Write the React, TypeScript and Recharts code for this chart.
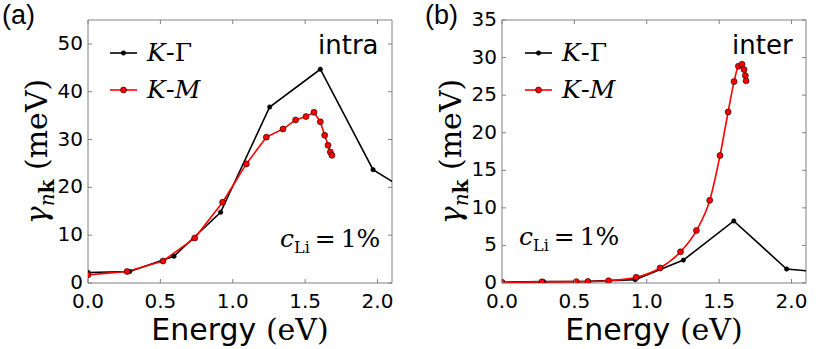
import { Line, LineChart, ReferenceArea, XAxis, YAxis } from 'recharts';

// energy (eV) and linewidth (meV)
const intraKG_x = [0, 0.288, 0.594, 0.916, 1.255, 1.605, 1.969, 2.3];
const intraKG_y = [2.2, 2.4, 5.6, 14.8, 36.8, 44.7, 23.7, 17.5];
const intraKM_x = [0, 0.27, 0.518, 0.737, 0.93, 1.094, 1.232, 1.347, 1.434, 1.506, 1.561, 1.605, 1.635, 1.658, 1.674, 1.685];
const intraKM_y = [1.7, 2.4, 4.6, 9.4, 16.9, 24.9, 30.5, 32.2, 34.1, 34.8, 35.7, 33.7, 30.9, 28.8, 27.4, 26.7];

const interKG_x = [0, 0.287, 0.594, 0.92, 1.253, 1.601, 1.966, 2.3];
const interKG_y = [0.1, 0.18, 0.22, 0.45, 3.05, 8.26, 1.86, 1.3];
const interKM_x = [0, 0.276, 0.513, 0.593, 0.736, 0.927, 1.092, 1.233, 1.343, 1.435, 1.506, 1.562, 1.603, 1.633, 1.658, 1.672, 1.681, 1.686];
const interKM_y = [0.1, 0.15, 0.18, 0.2, 0.3, 0.76, 2.0, 4.15, 6.98, 11.0, 16.97, 22.76, 26.8, 28.85, 29.1, 28.4, 27.6, 26.9];

const xTicks = [0, 0.5, 1.0, 1.5, 2.0];
const intraTicks = [0, 10, 20, 30, 40, 50];
const interTicks = [0, 5, 10, 15, 20, 25, 30, 35];

const zip = (xs: number[], ys: number[]) => xs.map((x, i) => ({ x, y: ys[i] }));

const SANS = '"DejaVu Sans", sans-serif';
const SERIF = '"DejaVu Serif", serif';
const FRAME = '#808080';
const RED = '#ff0000';

const makeXTick = (plotH: number) => (props: any) => {
  const { x, y, payload } = props;
  return (
    <g>
      <line x1={x} x2={x} y1={y} y2={y - 4} stroke={FRAME} />
      <line x1={x} x2={x} y1={y - plotH} y2={y - plotH + 4} stroke={FRAME} />
      <text x={x} y={y + 25} textAnchor="middle" fontFamily={SANS} fontSize={20} fill="#000">
        {Number(payload.value).toFixed(1)}
      </text>
    </g>
  );
};

const makeYTick = (plotW: number) => (props: any) => {
  const { x, y, payload } = props;
  return (
    <g>
      <line x1={x} x2={x + 4} y1={y} y2={y} stroke={FRAME} />
      <line x1={x + plotW} x2={x + plotW - 4} y1={y} y2={y} stroke={FRAME} />
      <text x={x - 5} y={y + 6} textAnchor="end" fontFamily={SANS} fontSize={20} fill="#000">
        {payload.value}
      </text>
    </g>
  );
};

const xLabel = (props: any) => {
  const vb = props.viewBox;
  const cx = vb.x + vb.width / 2;
  return (
    <text x={cx} y={vb.y + 57} textAnchor="middle" fontSize={30} fill="#000">
      <tspan fontFamily={SANS}>Energy </tspan>
      <tspan fontFamily={SERIF}>(eV)</tspan>
    </text>
  );
};

const yLabel = (dx: number) => (props: any) => {
  const vb = props.viewBox;
  const cx = vb.x - dx;
  const cy = vb.y + vb.height / 2;
  return (
    <text
      x={cx}
      y={cy}
      transform={`rotate(-90 ${cx} ${cy})`}
      textAnchor="middle"
      fontFamily={SERIF}
      fontSize={30}
      fill="#000"
    >
      <tspan fontStyle="italic">γ</tspan>
      <tspan fontSize={20} dy={7} fontStyle="italic">n</tspan>
      <tspan fontSize={20} fontWeight="bold">k</tspan>
      <tspan dy={-7}> (meV)</tspan>
    </text>
  );
};

interface PanelProps {
  left: number;
  width: number;
  marginLeft: number;
  marginRight: number;
  yMax: number;
  yTicks: number[];
  kg: { x: number; y: number }[];
  km: { x: number; y: number }[];
  kmType: 'linear' | 'monotone';
  title: string;
  titleX: number;
  legendX: number;
  cX: number;
  cY: number;
  yLabelDx: number;
}

const PLOT_TOP = 20;
const PLOT_BOTTOM = 283;
const HEIGHT = 349;
const Y_AXIS_W = 40;
const X_AXIS_H = 50;

const LegendRow = ({ x, y, color, red }: { x: number; y: number; color: string; red: boolean }) => (
  <g>
    <line x1={x} x2={x + 27} y1={y} y2={y} stroke={color} strokeWidth={1.6} />
    <circle cx={x + 13.5} cy={y} r={red ? 3 : 2.2} fill={color} stroke="#000" strokeWidth={0.6} />
    <text x={x + 37} y={y + 8} fontFamily={SERIF} fontSize={25} fill="#000">
      <tspan fontStyle="italic">K</tspan>
      <tspan fontFamily={SANS}>-</tspan>
      {red ? <tspan fontStyle="italic">M</tspan> : <tspan>Γ</tspan>}
    </text>
  </g>
);

const Panel = (p: PanelProps) => {
  const plotW = p.width - p.marginLeft - Y_AXIS_W - p.marginRight;
  const plotH = PLOT_BOTTOM - PLOT_TOP;
  return (
    <div style={{ position: 'absolute', left: p.left, top: 0, width: p.width, height: HEIGHT }}>
      <LineChart
        width={p.width}
        height={HEIGHT}
        margin={{ top: PLOT_TOP, right: p.marginRight, left: p.marginLeft, bottom: HEIGHT - PLOT_BOTTOM - X_AXIS_H }}
      >
        <XAxis
          type="number"
          dataKey="x"
          domain={[0, 2.1]}
          ticks={xTicks}
          allowDataOverflow
          height={X_AXIS_H}
          axisLine={false}
          tickLine={false}
          tickSize={0}
          tickMargin={0}
          tick={makeXTick(plotH)}
          label={{ content: xLabel }}
        />
        <YAxis
          type="number"
          dataKey="y"
          domain={[0, p.yMax]}
          ticks={p.yTicks}
          allowDataOverflow
          width={Y_AXIS_W}
          axisLine={false}
          tickLine={false}
          tickSize={0}
          tickMargin={0}
          tick={makeYTick(plotW)}
          label={{ content: yLabel(p.yLabelDx) }}
        />
        <ReferenceArea x1={0} x2={2.1} y1={0} y2={p.yMax} fill="none" stroke={FRAME} strokeWidth={1} ifOverflow="visible" />
        <Line
          data={p.kg}
          dataKey="y"
          name="K-Γ"
          type="linear"
          stroke="#000000"
          strokeWidth={1.6}
          dot={{ r: 2.2, fill: '#000', stroke: '#000', strokeWidth: 0.6 }}
          isAnimationActive={false}
        />
        <Line
          data={p.km}
          dataKey="y"
          name="K-M"
          type={p.kmType}
          stroke={RED}
          strokeWidth={1.6}
          dot={{ r: 3, fill: RED, stroke: '#000', strokeWidth: 0.6 }}
          isAnimationActive={false}
        />
      </LineChart>
      <div style={{ position: 'absolute', left: 0, top: 0, width: p.width, height: HEIGHT, pointerEvents: 'none' }}>
        <svg width={p.width} height={HEIGHT}>
          <LegendRow x={p.legendX} y={53} color="#000" red={false} />
          <LegendRow x={p.legendX} y={90} color={RED} red />
          <text x={p.titleX} y={54} fontFamily={SANS} fontSize={26} fill="#000">
            {p.title}
          </text>
          <text x={p.cX} y={p.cY} fontFamily={SERIF} fontSize={25} fill="#000">
            <tspan fontStyle="italic">c</tspan>
            <tspan fontSize={16} dy={6}>Li</tspan>
            <tspan dy={-6}>{'\u2009=\u20091%'}</tspan>
          </text>
        </svg>
      </div>
    </div>
  );
};

const App = () => {
  return (
    <div style={{ position: 'absolute', left: 0, top: 0, width: 822, height: HEIGHT, background: '#fff' }}>
      <div style={{ position: 'absolute', left: 2, top: 0, fontFamily: '"Liberation Sans", sans-serif', fontSize: 27, lineHeight: '30px' }}>
        (a)
      </div>
      <div style={{ position: 'absolute', left: 425, top: 0, fontFamily: '"Liberation Sans", sans-serif', fontSize: 27, lineHeight: '30px' }}>
        (b)
      </div>
      <Panel
        left={0}
        width={410}
        marginLeft={48}
        marginRight={18}
        yMax={55}
        yTicks={intraTicks}
        kg={zip(intraKG_x, intraKG_y)}
        km={zip(intraKM_x, intraKM_y)}
        kmType="linear"
        title="intra"
        titleX={318}
        legendX={110}
        cX={280}
        cY={247}
        yLabelDx={1}
      />
      <Panel
        left={410}
        width={412}
        marginLeft={52}
        marginRight={16}
        yMax={35}
        yTicks={interTicks}
        kg={zip(interKG_x, interKG_y)}
        km={zip(interKM_x, interKM_y)}
        kmType="monotone"
        title="inter"
        titleX={322}
        legendX={115}
        cX={109}
        cY={245}
        yLabelDx={1}
      />
    </div>
  );
};

export default App;
